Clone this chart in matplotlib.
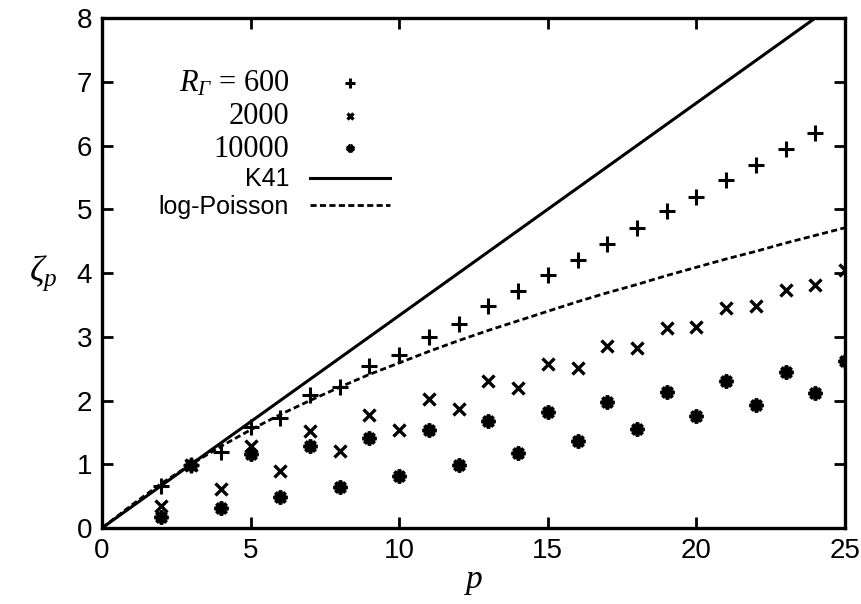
import numpy as np
import matplotlib
matplotlib.use("Agg")
import matplotlib.pyplot as plt

# structure function exponents
p600 = [2, 3, 4, 5, 6, 7, 8, 9, 10, 11, 12, 13, 14, 15, 16, 17, 18, 19, 20, 21, 22, 23, 24]
z600 = [0.66, 0.99, 1.20, 1.59, 1.72, 2.08, 2.21, 2.54, 2.71, 3.00, 3.20, 3.49, 3.71,
        3.97, 4.21, 4.45, 4.70, 4.97, 5.20, 5.46, 5.69, 5.94, 6.19]

p2000 = [2, 3, 4, 5, 6, 7, 8, 9, 10, 11, 12, 13, 14, 15, 16, 17, 18, 19, 20, 21, 22, 23, 24, 25]
z2000 = [0.35, 0.99, 0.61, 1.28, 0.90, 1.52, 1.21, 1.78, 1.53, 2.03, 1.87, 2.31, 2.19,
         2.58, 2.51, 2.85, 2.83, 3.14, 3.16, 3.45, 3.48, 3.74, 3.81, 4.05]

p10000 = [2, 3, 4, 5, 6, 7, 8, 9, 10, 11, 12, 13, 14, 15, 16, 17, 18, 19, 20, 21, 22, 23, 24, 25]
z10000 = [0.18, 0.99, 0.32, 1.16, 0.48, 1.29, 0.64, 1.41, 0.82, 1.54, 0.99, 1.68, 1.18,
          1.82, 1.37, 1.98, 1.56, 2.13, 1.75, 2.30, 1.93, 2.45, 2.12, 2.62]

# K41 straight line
p_k41 = [0, 25]
z_k41 = [0, 25 / 3]

# log-Poisson curve, read at integer p
p_lp = list(range(0, 26))
z_lp = [0.00, 0.36, 0.70, 1.00, 1.28, 1.54, 1.78, 2.00, 2.21, 2.41, 2.59, 2.77, 2.94,
        3.10, 3.25, 3.40, 3.55, 3.69, 3.82, 3.96, 4.09, 4.22, 4.34, 4.47, 4.59, 4.71]

serif = ["Liberation Serif", "DejaVu Serif"]
sans = ["Liberation Sans", "DejaVu Sans"]
# math only used for symbols here, so make everything italic (incl. Greek capitals)
plt.rcParams["mathtext.fontset"] = "custom"
plt.rcParams["mathtext.rm"] = "Liberation Serif:italic"
plt.rcParams["mathtext.it"] = "Liberation Serif:italic"

fig = plt.figure(figsize=(8.62, 6.04), dpi=100)
ax = fig.add_axes([0.1183, 0.1258, 0.862, 0.8444])

ax.plot(p600, z600, ls="none", marker="+", ms=12, mew=2.2, color="black",
        label=r"$R_\Gamma$" + " = 600")
ax.plot(p2000, z2000, ls="none", marker="x", ms=9, mew=2.4, color="black",
        label="2000")
ax.plot(p10000, z10000, ls="none", marker=(8, 2, 0), ms=10, mew=2.6, color="black",
        label="10000")
ax.plot(p_k41, z_k41, color="black", lw=2.2, label="K41")
ax.plot(p_lp, z_lp, color="black", lw=2.0, ls=(0, (2.2, 1.2)), label="log-Poisson")

ax.set_xlim(0, 25)
ax.set_ylim(0, 8)
ax.set_xticks([0, 5, 10, 15, 20, 25])
ax.set_yticks(range(0, 9))
ax.tick_params(direction="in", length=8, width=2, top=True, right=True,
               labelsize=20, pad=7)
for lab in ax.get_xticklabels() + ax.get_yticklabels():
    lab.set_fontfamily(sans)
for s in ax.spines.values():
    s.set_linewidth(2.4)

ax.set_xlabel("$p$", fontsize=24, labelpad=0)
ax.set_ylabel(r"$\zeta_p$", fontsize=26, rotation=0, labelpad=24, va="center")

leg = ax.legend(loc="upper right", bbox_to_anchor=(0.405, 0.924), frameon=False,
                markerfirst=False, fontsize=18, borderpad=0, handlelength=3.2,
                handletextpad=0.85, labelspacing=0.14, markerscale=0.55)
texts = leg.get_texts()
for t in texts[:3]:
    t.set_fontfamily(serif)
    t.set_fontsize(22)
for t in texts[3:]:
    t.set_fontfamily(sans)

fig.savefig("out.png", dpi=100)
